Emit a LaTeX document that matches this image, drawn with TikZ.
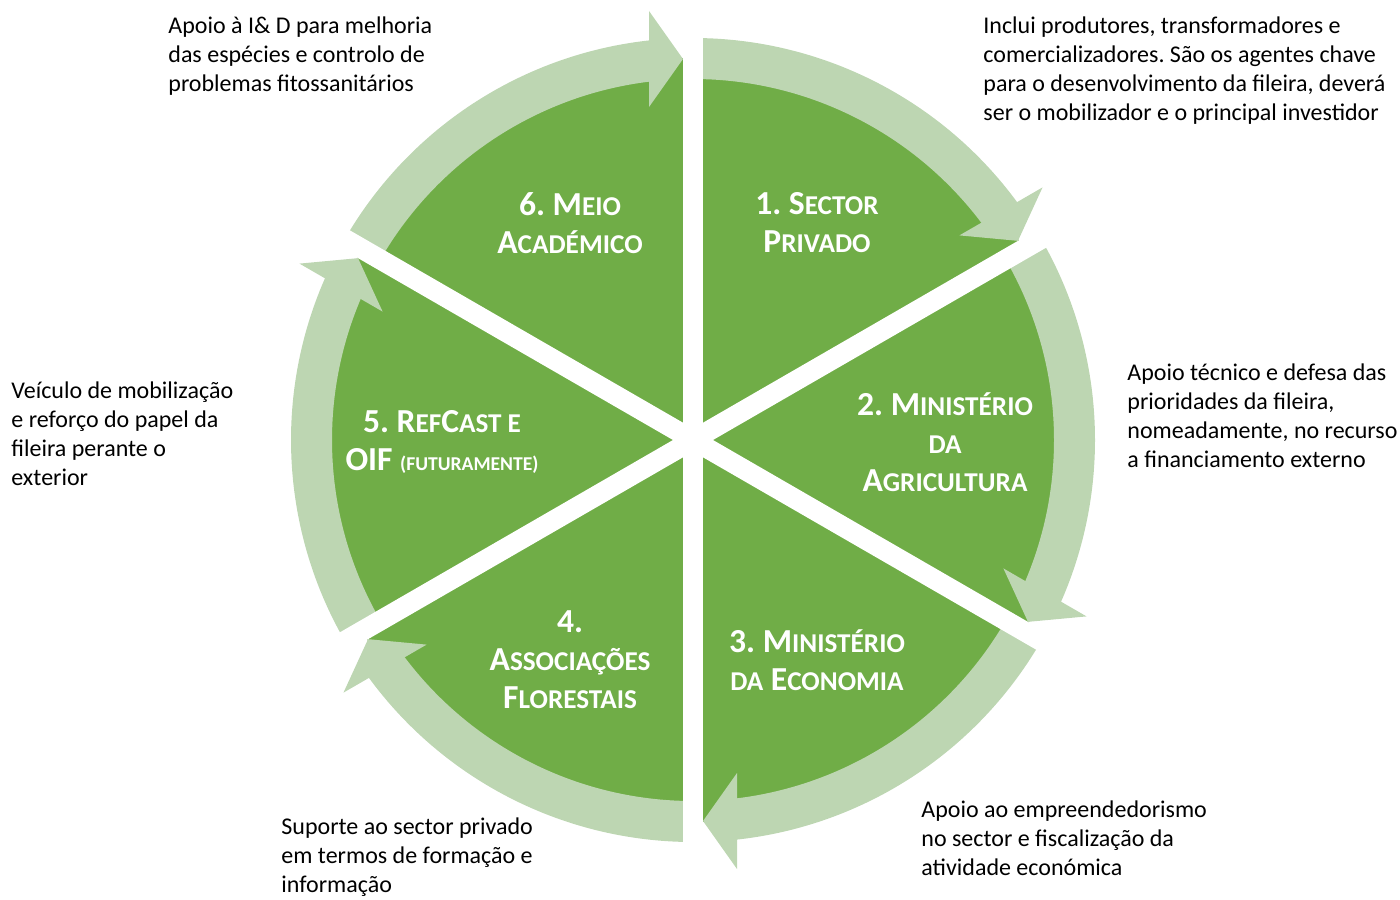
\documentclass[tikz,border=0pt]{standalone}
\usepackage{fontspec}
\setmainfont{Carlito}
\usetikzlibrary{calc}
\frenchspacing

\definecolor{leafgreen}{RGB}{112,173,71}
\definecolor{palegreen}{RGB}{189,214,178}

% fake small caps for the segment titles
\newcommand{\smc}[1]{{\fontsize{13.6}{19}\selectfont #1}}
\newcommand{\minismc}[1]{{\fontsize{9.8}{19}\selectfont #1}}

\tikzset{
  seg/.style={fill=leafgreen},
  ring/.style={fill=palegreen},
  gapline/.style={draw=white, line width=10pt},
  segtext/.style={text=white, font=\fontsize{16.8}{19}\selectfont\bfseries, align=center},
  remark/.style={anchor=north west, inner sep=0pt, align=left, font=\fontsize{12}{14.5}\selectfont}
}

\begin{document}
\begin{tikzpicture}[x=0.5pt, y=0.5pt]
  \useasboundingbox (0,0) rectangle (1400,-899);
  \coordinate (c) at (693,-440);

  % Ring arrow: starts at angle #1, runs clockwise to #1-60
  \newcommand{\ringarrow}[1]{%
    \fill[ring] ($(c)+(#1:402)$) arc[start angle=#1, end angle=#1-55, radius=402]
      -- ($(c)+(#1-55:361)$) arc[start angle=#1-55, end angle=#1, radius=361] -- cycle;
    \fill[ring] ($(c)+(#1-60:381)+(#1+30:10)$) -- ($(c)+(#1-60:429)+(#1+30:44)$)
      -- ($(c)+(#1-60:333)+(#1+30:44)$) -- cycle;
  }

  % Green disc
  \fill[seg] (c) circle[radius=382];

  % Arrows round the disc
  \ringarrow{90}   % 1 -> 2
  \ringarrow{30}   % 2 -> 3
  \ringarrow{-30}  % 3 -> 4
  \ringarrow{-90}  % 4 -> 5
  \ringarrow{-150} % 5 -> 6
  \ringarrow{150}  % 6 -> 1

  % White gaps between the segments
  \draw[gapline] ($(c)+(90:412)$) -- ($(c)+(270:412)$);
  \draw[gapline] ($(c)+(30:412)$) -- ($(c)+(210:412)$);
  \draw[gapline] ($(c)+(150:412)$) -- ($(c)+(330:412)$);

  % Segment titles
  \node[segtext] (seg1) at (817,-223) {1. S\smc{ECTOR}\\P\smc{RIVADO}};
  \node[segtext] (seg2) at (945,-442) {2. M\smc{INISTÉRIO}\\\smc{DA}\\A\smc{GRICULTURA}};
  \node[segtext] (seg3) at (817,-660) {3. M\smc{INISTÉRIO}\\\smc{DA} E\smc{CONOMIA}};
  \node[segtext] (seg4) at (570,-660) {4.\\A\smc{SSOCIAÇÕES}\\F\smc{LORESTAIS}};
  \node[segtext] (seg5) at (442,-442) {5. R\smc{EF}C\smc{AST E}\\OIF \minismc{(FUTURAMENTE)}};
  \node[segtext] (seg6) at (570,-223) {6. M\smc{EIO}\\A\smc{CADÉMICO}};

  % Notes round the cycle
  \node[remark] (note1) at (983,-16) {Inclui produtores, transformadores e\\comercializadores. São os agentes chave\\para o desenvolvimento da fileira, deverá\\ser o mobilizador e o principal investidor};
  \node[remark] (note2) at (1127,-363) {Apoio técnico e defesa das\\prioridades da fileira,\\nomeadamente, no recurso\\a financiamento externo};
  \node[remark] (note3) at (921,-800) {Apoio ao empreendedorismo\\no sector e fiscalização da\\atividade económica};
  \node[remark] (note4) at (281,-817) {Suporte ao sector privado\\em termos de formação e\\informação};
  \node[remark] (note5) at (11,-381) {Veículo de mobilização\\e reforço do papel da\\fileira perante o\\exterior};
  \node[remark] (note6) at (168,-16) {Apoio à I\& D para melhoria\\das espécies e controlo de\\problemas fitossanitários};
\end{tikzpicture}
\end{document}
